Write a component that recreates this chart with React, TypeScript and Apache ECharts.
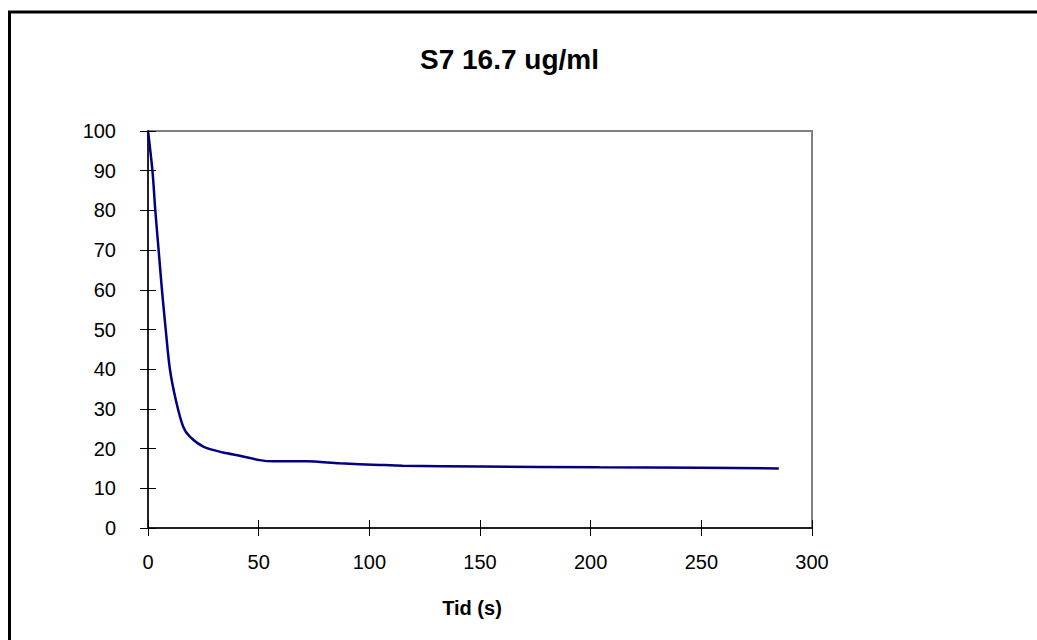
import React, { useEffect, useRef } from "react";
import * as echarts from "echarts";

const titleText = "S7 16.7 ug/ml";
const xAxisTitle = "Tid (s)";
const timeValues = [0, 2, 3.3, 4.8, 6.3, 8, 9.9, 12.6, 15.9, 18.9, 25, 34, 41.5, 50.5, 56.5, 71.6, 86.6, 104.6, 115, 150, 204, 250, 285];
const signalValues = [100, 90, 80, 70, 60, 50, 40, 32.2, 25.5, 23, 20.5, 19, 18.2, 17.1, 16.8, 16.8, 16.3, 15.9, 15.7, 15.5, 15.3, 15.2, 15.0];
const xMin = 0, xMax = 300, xStep = 50;
const yMin = 0, yMax = 100, yStep = 10;

const FONT = "'Liberation Sans', Arial, sans-serif";

export default function App() {
  const ref = useRef<HTMLDivElement>(null);
  useEffect(() => {
    if (!ref.current) return;
    const chart = echarts.init(ref.current, undefined, { renderer: "svg" });
    const data = timeValues.map((t, i) => [t, signalValues[i]]);
    const grid = { left: 148, right: 225, top: 131, bottom: 112, show: true, borderColor: "#808080", borderWidth: 2, backgroundColor: "#fff" };
    chart.setOption({
      animation: false,
      backgroundColor: "#fff",
      title: {
        text: titleText,
        left: 415,
        top: 40,
        textStyle: { fontFamily: FONT, fontSize: 28, fontWeight: "bold", color: "#000" },
      },
      grid,
      xAxis: [
        {
          type: "value", min: xMin, max: xMax, interval: xStep,
          axisLine: { show: true, onZero: false, lineStyle: { color: "#222", width: 2 } },
          axisTick: { show: true, length: 8, lineStyle: { color: "#000", width: 1 } },
          axisLabel: { margin: 24, fontFamily: FONT, fontSize: 20, color: "#000" },
          splitLine: { show: false },
        },
        {
          type: "value", min: xMin, max: xMax, interval: xStep, position: "bottom",
          axisLine: { show: false },
          axisTick: { show: true, inside: true, length: 8, lineStyle: { color: "#000", width: 1 } },
          axisLabel: { show: false },
          splitLine: { show: false },
        },
      ],
      yAxis: [
        {
          type: "value", min: yMin, max: yMax, interval: yStep,
          axisLine: { show: true, onZero: false, lineStyle: { color: "#222", width: 2 } },
          axisTick: { show: true, length: 8, lineStyle: { color: "#000", width: 1 } },
          axisLabel: { margin: 32, fontFamily: FONT, fontSize: 20, color: "#000" },
          splitLine: { show: false },
        },
        {
          type: "value", min: yMin, max: yMax, interval: yStep, position: "left",
          axisLine: { show: false },
          axisTick: { show: true, inside: true, length: 8, lineStyle: { color: "#000", width: 1 } },
          axisLabel: { show: false },
          splitLine: { show: false },
        },
      ],
      series: [
        {
          type: "line",
          data,
          smooth: 0.3,
          showSymbol: false,
          symbol: "none",
          lineStyle: { color: "#000080", width: 2.5 },
          z: 5,
        },
      ],
      graphic: [
        {
          type: "rect",
          shape: { x: 9.5, y: 12, width: 1100, height: 700 },
          style: { fill: "none", stroke: "#000", lineWidth: 3 },
          silent: true,
          z: 100,
        },
        {
          type: "text",
          x: 472,
          y: 608,
          style: { text: xAxisTitle, textAlign: "center", textVerticalAlign: "middle", font: `bold 20px ${FONT}`, fill: "#000" },
        },
      ],
    });
    return () => chart.dispose();
  }, []);
  return <div ref={ref} style={{ position: "fixed", left: 0, top: 0, width: 1037, height: 640 }} />;
}
